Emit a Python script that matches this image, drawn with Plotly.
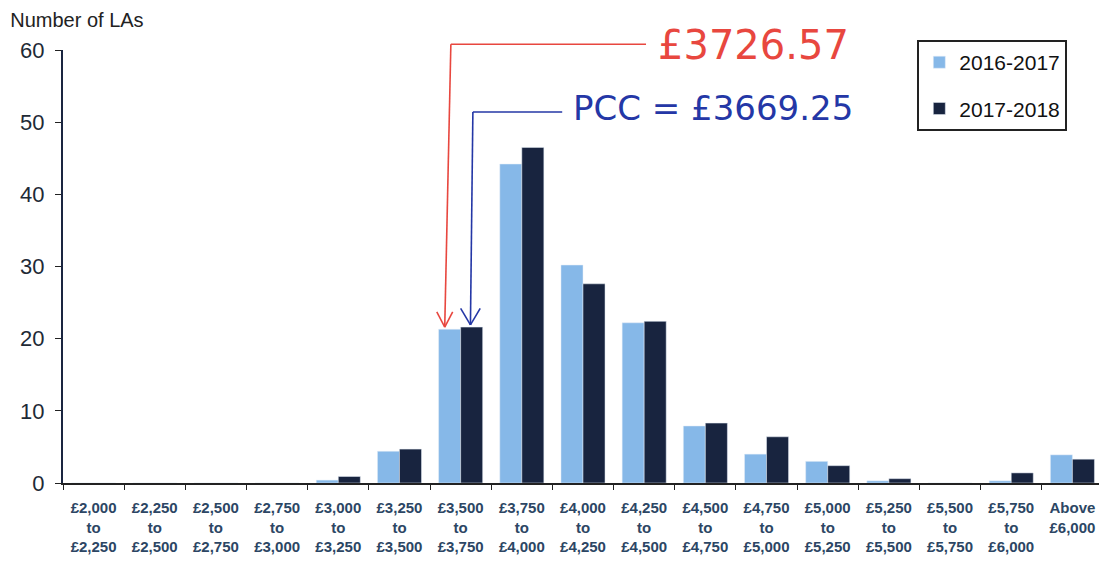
import plotly.graph_objects as go

# price bands
bands = ['£2,000<br>to<br>£2,250', '£2,250<br>to<br>£2,500', '£2,500<br>to<br>£2,750',
         '£2,750<br>to<br>£3,000', '£3,000<br>to<br>£3,250', '£3,250<br>to<br>£3,500',
         '£3,500<br>to<br>£3,750', '£3,750<br>to<br>£4,000', '£4,000<br>to<br>£4,250',
         '£4,250<br>to<br>£4,500', '£4,500<br>to<br>£4,750', '£4,750<br>to<br>£5,000',
         '£5,000<br>to<br>£5,250', '£5,250<br>to<br>£5,500', '£5,500<br>to<br>£5,750',
         '£5,750<br>to<br>£6,000', 'Above<br>£6,000']

# number of LAs per band
las_2016_17 = [0, 0, 0, 0, 0.4, 4.4, 21.3, 44.2, 30.2, 22.2, 7.9, 4.0, 3.0, 0.3, 0, 0.3, 3.9]
las_2017_18 = [0, 0, 0, 0, 0.9, 4.7, 21.6, 46.5, 27.6, 22.4, 8.3, 6.4, 2.4, 0.6, 0, 1.4, 3.3]

# handwritten notes
red_note = '£3726.57'
blue_note = 'PCC = £3669.25'

light = '#86b8e8'
dark = '#18243f'
red = '#e8473f'
blue = '#2437a6'

fig = go.Figure()
fig.add_trace(go.Bar(x=bands, y=las_2016_17, name='2016-2017', marker_color=light,
                     legendgroup='a'))
fig.add_trace(go.Bar(x=bands, y=las_2017_18, name='2017-2018', marker_color=dark,
                     legendgroup='b'))
# invisible trace so the hidden linear x axis exists
fig.add_trace(go.Scatter(x=[0], y=[0], xaxis='x2', mode='markers', showlegend=False,
                         hoverinfo='skip', marker=dict(opacity=0)))

# hand drawn arrows as shapes (x on hidden linear axis, y in units of 60 = top)
def arrow(xs, ys, color):
    for i in range(len(xs) - 1):
        fig.add_shape(type='line', xref='x2', yref='paper',
                      x0=xs[i], y0=ys[i] / 60, x1=xs[i + 1], y1=ys[i + 1] / 60,
                      line=dict(color=color, width=1.6))

arrow([9.03, 5.84, 5.74], [60.8, 60.8, 21.6], red)
arrow([5.61, 5.74, 5.87], [23.7, 21.6, 23.7], red)
arrow([7.66, 6.2, 6.16], [51.4, 51.4, 21.9], blue)
arrow([6.0, 6.16, 6.32], [24.2, 21.9, 24.2], blue)

fig.add_annotation(x=9.2, y=60.7 / 60, xref='x2', yref='paper', text=red_note,
                   showarrow=False, xanchor='left', yanchor='middle',
                   font=dict(family='DejaVu Sans', size=40, color=red))
fig.add_annotation(x=7.8, y=52.0 / 60, xref='x2', yref='paper', text=blue_note,
                   showarrow=False, xanchor='left', yanchor='middle',
                   font=dict(family='DejaVu Sans', size=34, color=blue))

fig.update_layout(
    width=1107, height=562,
    margin=dict(l=42, r=12, t=42, b=87),
    paper_bgcolor='white', plot_bgcolor='white',
    barmode='group', bargap=0.28, bargroupgap=0,
    font=dict(family='Liberation Sans'),
    title=dict(text='Number of LAs', xref='container', yref='container',
               x=0.002, xanchor='left', y=1 - 12 / 562, yanchor='middle',
               font=dict(family='Liberation Sans', size=20, color='#222222')),
    xaxis=dict(type='category', showline=True, linecolor='#222222', linewidth=2,
               ticks='outside', tickson='boundaries', ticklen=5, tickcolor='#222222',
               tickfont=dict(size=15, color='#2c4664', weight='bold'),
               ticklabelstandoff=10, showgrid=False),
    xaxis2=dict(overlaying='x', range=[-0.5, 16.5], visible=False),
    yaxis=dict(range=[0, 60], tickvals=[0, 10, 20, 30, 40, 50, 60], showline=True,
               linecolor='#1a2540', linewidth=2, ticks='outside', ticklen=6,
               tickcolor='#222222', showgrid=False, zeroline=False,
               ticklabelstandoff=6, tickfont=dict(size=22, color='#1e2a36')),
    legend=dict(x=865 / 1053, y=1.023, xanchor='left', yanchor='top',
                bordercolor='#222222', borderwidth=2, bgcolor='white',
                font=dict(size=21, color='#111111'), tracegroupgap=16),
    showlegend=True,
)

fig.write_html('out.html')
